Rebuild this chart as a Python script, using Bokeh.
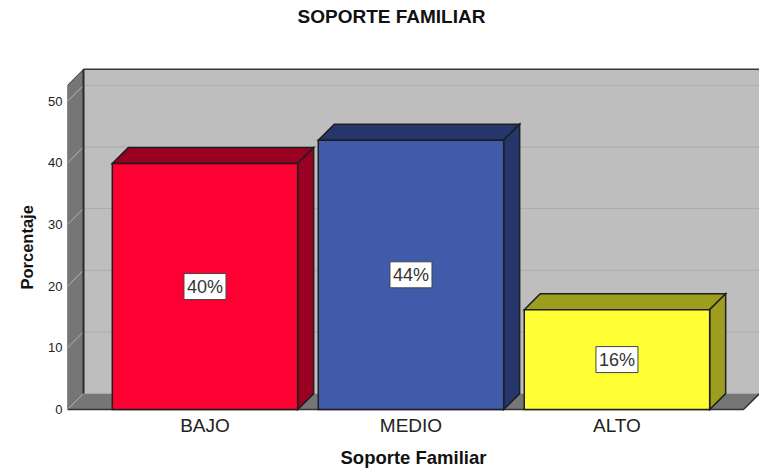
from bokeh.plotting import figure
from bokeh.embed import file_html
from bokeh.resources import INLINE
from bokeh.models import Range1d, FixedTicker, ColumnDataSource, Title, Label
from bokeh.core.properties import value

categories = ["BAJO", "MEDIO", "ALTO"]
percentages = [39.9, 43.7, 16.2]
value_labels = ["40%", "44%", "16%"]
y_ticks = [0, 10, 20, 30, 40, 50]
front_colors = ["#FF0033", "#3F5BA9", "#FFFF33"]
side_colors = ["#990022", "#24366B", "#9E9E1E"]
title_text = "SOPORTE FAMILIAR"
x_title = "Soporte Familiar"
y_title = "Porcentaje"

FONT = "Liberation Sans"
# scale: 206 px per category, 6.18 px per percentage point
X0, X1 = -0.6675, 2.692
Y0, Y1 = -0.32, 66.35
DX, DY = 16 / 206, 16 / 6.18
HALF = 0.45
WALL_TOP = 52.6

p = figure(width=759, height=470, output_backend="svg", toolbar_location=None,
           x_range=Range1d(X0, X1), y_range=Range1d(Y0, Y1),
           min_border_left=67, min_border_right=0, min_border_top=0, min_border_bottom=58,
           background_fill_color="white", border_fill_color="white", outline_line_color=None)

p.grid.visible = False

# walls and floor
p.patch([X0 + DX, X1, X1, X0 + DX], [DY, DY, WALL_TOP + DY, WALL_TOP + DY],
        fill_color="#BEBEBE", line_color=None)
p.patch([X0, X0 + DX, X1, X1 - DX], [0, DY, DY, 0], fill_color="#767676", line_color=None)
p.patch([X0, X0 + DX, X0 + DX, X0], [0, DY, WALL_TOP + DY, WALL_TOP],
        fill_color="#767676", line_color="#3A3A3A", line_width=1)

# grid lines
for t in y_ticks:
    p.line([X0, X0 + DX], [t, t + DY], line_color="#B4B4B4", line_width=1)
    if t:
        p.line([X0 + DX, X1], [t + DY, t + DY], line_color="#ABABAB", line_width=1)

p.line([X0 + DX, X0 + DX], [DY, WALL_TOP + DY], line_color="#2A2A2A", line_width=2)
p.line([X0 + DX, X1], [WALL_TOP + DY, WALL_TOP + DY], line_color="#3A3A3A", line_width=1.5)
p.line([X0, X1 - DX, X1], [0, 0, DY], line_color="#333333", line_width=1.5)

# 3D bars
for i, v in enumerate(percentages):
    l, r = i - HALF, i + HALF
    edge = dict(line_color="#1E1E1E", line_width=1.5, line_join="miter")
    p.patch([l, r, r + DX, l + DX], [v, v, v + DY, v + DY], fill_color=side_colors[i], **edge)
    p.patch([r, r + DX, r + DX, r], [0, DY, v + DY, v], fill_color=side_colors[i], **edge)
    p.patch([l, r, r, l], [0, 0, v, v], fill_color=front_colors[i], **edge)

src = ColumnDataSource(dict(x=list(range(len(categories))),
                            y=[v / 2 for v in percentages],
                            t=value_labels))
p.text("x", "y", text="t", source=src, text_font=value(FONT), text_font_size="18px",
       text_color="#333333", text_align="center", text_baseline="middle",
       background_fill_color="white", border_line_color="#444444", border_line_width=1,
       padding=3)

# axes
p.xaxis.ticker = FixedTicker(ticks=list(range(len(categories))))
p.xaxis.major_label_overrides = {i: c for i, c in enumerate(categories)}
p.xaxis.axis_line_color = None
p.xaxis.major_tick_line_color = None
p.xaxis.minor_tick_line_color = None
p.xaxis.major_tick_out = 0
p.xaxis.major_label_standoff = 3
p.xaxis.major_label_text_font = FONT
p.xaxis.major_label_text_font_size = "19px"
p.xaxis.major_label_text_color = "#222222"
p.xaxis.axis_label = x_title
p.xaxis.axis_label_text_font = FONT
p.xaxis.axis_label_text_font_size = "18.5px"
p.xaxis.axis_label_text_font_style = "bold"
p.xaxis.axis_label_text_color = "#111111"
p.xaxis.axis_label_standoff = 8

p.yaxis.ticker = FixedTicker(ticks=y_ticks)
p.yaxis.axis_line_color = None
p.yaxis.major_tick_line_color = None
p.yaxis.minor_tick_line_color = None
p.yaxis.major_tick_out = 0
p.yaxis.major_label_standoff = 5
p.yaxis.major_label_text_font = FONT
p.yaxis.major_label_text_font_size = "13px"
p.yaxis.major_label_text_color = "#222222"

p.add_layout(Title(text=y_title, align="left", offset=122, standoff=15, vertical_align="top",
                   text_font=FONT, text_font_size="16.5px", text_font_style="bold",
                   text_color="#111111"), "left")

# the frame reaches the top of the page; the title sits inside it, above the walls
p.add_layout(Label(x=324, y=395, x_units="screen", y_units="screen", text=title_text,
                   text_align="center", text_baseline="middle",
                   text_font=FONT, text_font_size="19px", text_font_style="bold",
                   text_color="#111111"))

open("out.html", "w").write(file_html(p, INLINE))
